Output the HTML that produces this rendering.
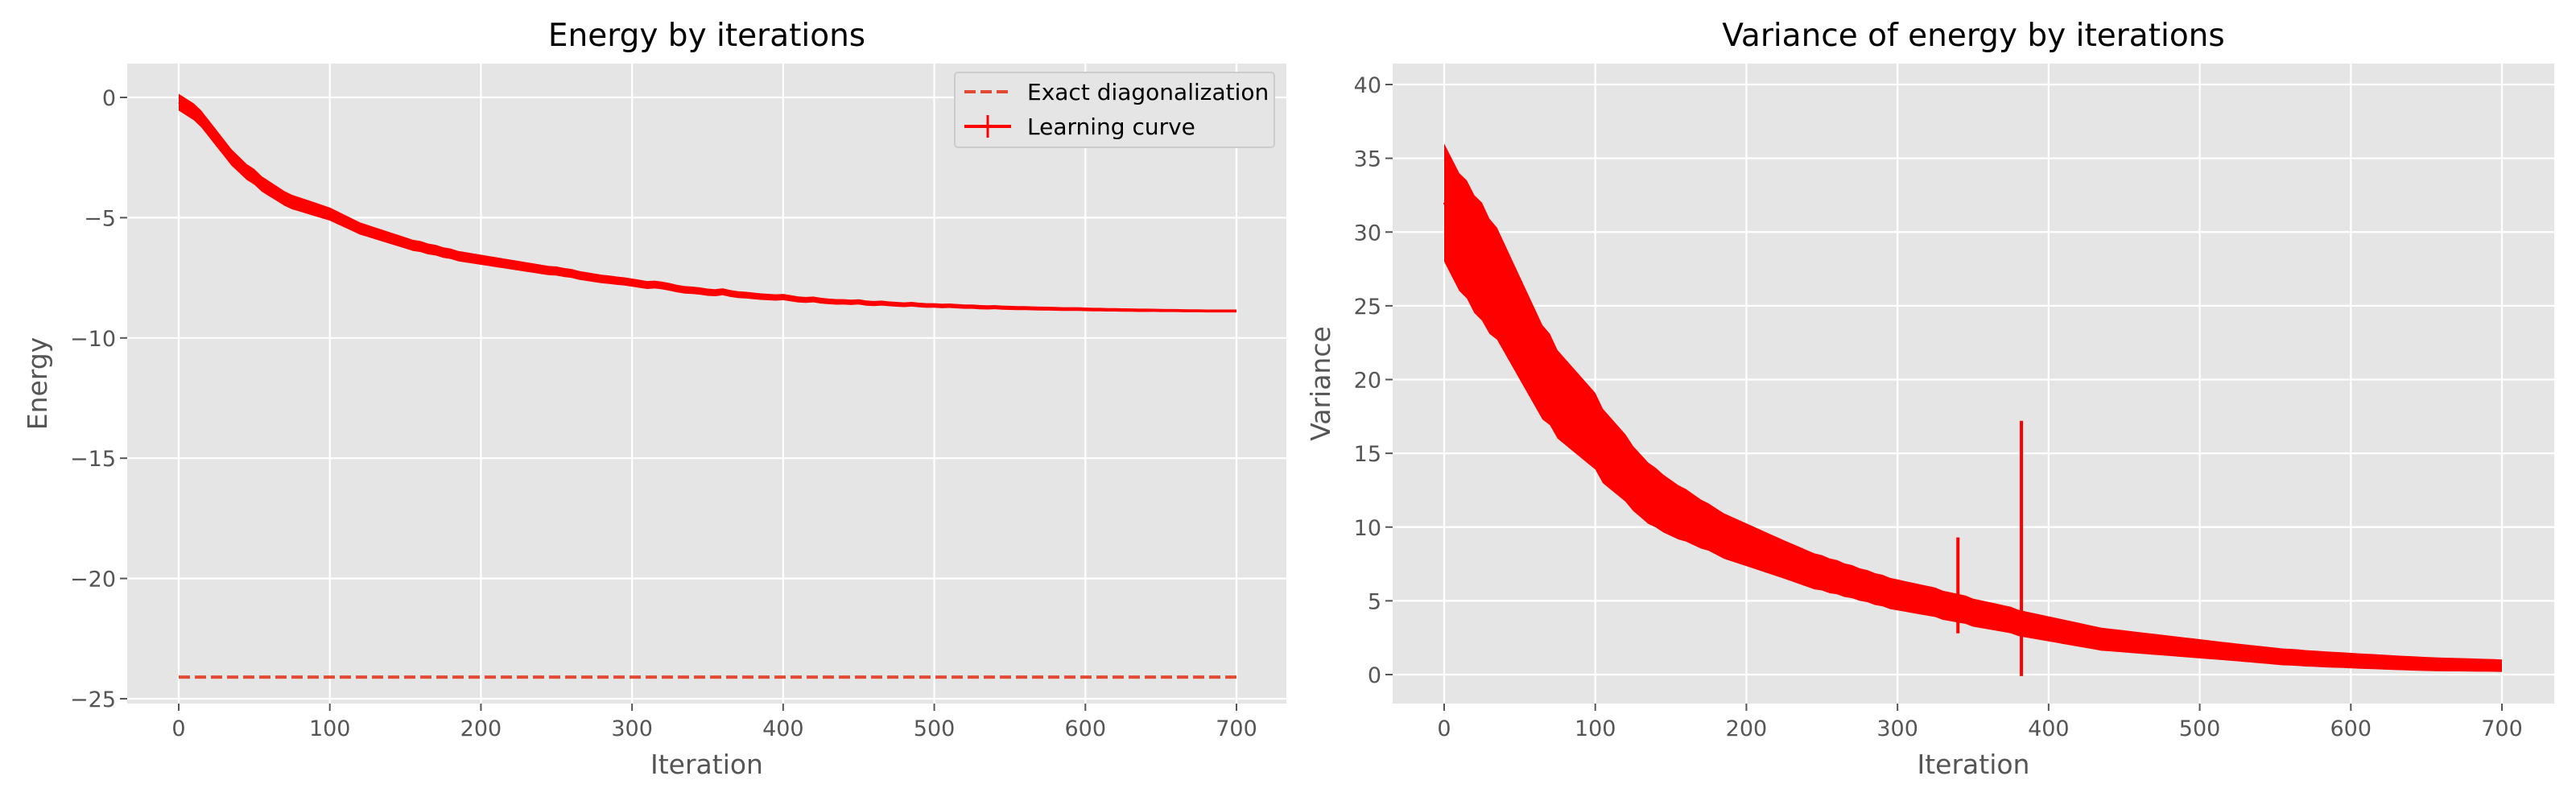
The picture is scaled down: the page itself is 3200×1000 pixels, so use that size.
<!DOCTYPE html>
<html><head><meta charset="utf-8"><style>
html,body{margin:0;padding:0;background:#fff;}
svg{display:block;font-family:"DejaVu Sans","Liberation Sans",sans-serif;}
</style></head><body>
<svg id="fig" width="3200" height="1000" viewBox="0 0 3200 1000"></svg>
<script>
const xTicks=[0,100,200,300,400,500,600,700];
const eTicks=[0,-5,-10,-15,-20,-25];
const vTicks=[0,5,10,15,20,25,30,35,40];
const exactEnergy=-24.1;
const energyStep=5;
const energy=[-0.2,-0.4,-0.6,-0.9,-1.3,-1.7,-2.1,-2.5,-2.8,-3.1,
-3.3,-3.6,-3.8,-4.0,-4.2,-4.35,-4.45,-4.55,-4.65,-4.75,
-4.85,-5.0,-5.15,-5.3,-5.45,-5.55,-5.65,-5.75,-5.85,-5.95,
-6.05,-6.15,-6.2,-6.3,-6.35,-6.45,-6.5,-6.6,-6.65,-6.7,
-6.75,-6.8,-6.85,-6.9,-6.95,-7.0,-7.05,-7.1,-7.15,-7.2,
-7.22,-7.28,-7.32,-7.4,-7.45,-7.5,-7.55,-7.58,-7.62,-7.65,
-7.7,-7.75,-7.8,-7.78,-7.82,-7.88,-7.95,-8.0,-8.02,-8.05,
-8.1,-8.12,-8.08,-8.15,-8.2,-8.22,-8.25,-8.28,-8.3,-8.32,
-8.3,-8.35,-8.4,-8.42,-8.4,-8.45,-8.48,-8.5,-8.5,-8.52,
-8.5,-8.55,-8.57,-8.55,-8.58,-8.6,-8.62,-8.6,-8.63,-8.65,
-8.65,-8.67,-8.66,-8.68,-8.7,-8.7,-8.72,-8.73,-8.72,-8.74,
-8.75,-8.76,-8.76,-8.77,-8.78,-8.78,-8.79,-8.8,-8.8,-8.8,
-8.81,-8.82,-8.82,-8.83,-8.83,-8.84,-8.84,-8.85,-8.85,-8.85,
-8.86,-8.86,-8.86,-8.87,-8.87,-8.87,-8.88,-8.88,-8.88,-8.88,-8.88];
const energyErr=[0.35,0.3,0.25,0.22,0.2,0.18,0.16,0.14,0.12,0.1,0.09,0.08,0.07,0.06,0.06];
const variance=[32,31,30,29.5,28.5,28,27,26.5,25.5,24.5,
23.5,22.5,21.5,20.5,20,19,18.5,18,17.5,17,
16.5,15.5,15,14.5,14,13.3,12.8,12.3,12,11.6,
11.3,11,10.8,10.5,10.2,10,9.7,9.4,9.2,9,
8.8,8.6,8.4,8.2,8,7.8,7.6,7.4,7.2,7,
6.9,6.7,6.6,6.4,6.3,6.1,6,5.8,5.7,5.5,
5.4,5.3,5.2,5.1,5,4.9,4.7,4.6,4.5,4.4,
4.2,4.1,4,3.9,3.8,3.7,3.5,3.4,3.3,3.2,
3.1,3,2.9,2.8,2.7,2.6,2.5,2.4,2.35,2.3,
2.25,2.2,2.15,2.1,2.05,2,1.95,1.9,1.85,1.8,
1.75,1.7,1.65,1.6,1.55,1.5,1.45,1.4,1.35,1.3,
1.25,1.2,1.18,1.15,1.1,1.08,1.05,1.02,1,0.98,
0.95,0.92,0.9,0.88,0.85,0.83,0.8,0.78,0.76,0.74,
0.72,0.7,0.69,0.68,0.67,0.66,0.65,0.64,0.63,0.62,0.6];
const varianceErr=[4,3,2.2,1.6,1.3,1.1,1,0.9,0.8,0.7,0.6,0.55,0.5,0.45,0.4];
const spikeIters=[340,382];
const spikeTop=[9.3,17.2];
const spikeBottom=[2.8,-0.1];

const NS="http://www.w3.org/2000/svg";
const svg=document.getElementById('fig');
function mk(tag,attrs,parent){const e=document.createElementNS(NS,tag);for(const k in attrs)e.setAttribute(k,attrs[k]);(parent||svg).appendChild(e);return e;}
function errAt(errs,it){const p=it/50-0.5;if(p<=0)return errs[0];const i=Math.floor(p);if(i>=errs.length-1)return errs[errs.length-1];const f=p-i;return errs[i]*(1-f)+errs[i+1]*f;}

function panel(cfg){
  const g=mk('g',{});
  
  
  const X=v=>cfg.x0px+(v-0)*(cfg.x700px-cfg.x0px)/700;
  const Y=v=>cfg.ya+(v-cfg.yaVal)*(cfg.yb-cfg.ya)/(cfg.ybVal-cfg.yaVal);
  const bg=mk('rect',{x:cfg.L,y:cfg.T,width:cfg.R-cfg.L,height:cfg.B-cfg.T,fill:'#E5E5E5'},g);
  
  
  xTicks.forEach(t=>{
    const gl=mk('line',{x1:X(t),x2:X(t),y1:cfg.T,y2:cfg.B,stroke:'#fff','stroke-width':2.2},g);
    
    
    mk('line',{x1:X(t),x2:X(t),y1:cfg.B,y2:cfg.B+9,stroke:'#555','stroke-width':2},g);
    const tx=mk('text',{x:X(t),y:cfg.B+40,'text-anchor':'middle','font-size':27,fill:'#555'},g);
    tx.textContent=t;
    
    
  });
  cfg.yTicks.forEach(t=>{
    const gl=mk('line',{x1:cfg.L,x2:cfg.R,y1:Y(t),y2:Y(t),stroke:'#fff','stroke-width':2.2},g);
    
    
    mk('line',{x1:cfg.L-9,x2:cfg.L,y1:Y(t),y2:Y(t),stroke:'#555','stroke-width':2},g);
    const tx=mk('text',{x:cfg.L-14,y:Y(t)+10,'text-anchor':'end','font-size':27,fill:'#555'},g);
    tx.textContent=t<0?'\u2212'+(-t):t;
    
    
  });
  const vals=cfg.vals,errs=cfg.errs;
  let up=[],dn=[],ln=[];
  vals.forEach((v,i)=>{const it=i*energyStep;const e=errAt(errs,it);
    up.push(X(it)+','+Y(v+e));dn.unshift(X(it)+','+Y(v-e));ln.push(X(it)+','+Y(v));});
  const band=mk('polygon',{points:up.concat(dn).join(' '),fill:'#ff0000'},g);
  
  
  const line=mk('polyline',{points:ln.join(' '),fill:'none',stroke:'#ff0000','stroke-width':3},g);
  
  
  const ti=mk('text',{x:(cfg.L+cfg.R)/2,y:57,'text-anchor':'middle','font-size':39,fill:'#000'},g);
  ti.textContent=cfg.title;
  
  
  const xl=mk('text',{x:(cfg.L+cfg.R)/2,y:961,'text-anchor':'middle','font-size':33,fill:'#555'},g);
  xl.textContent='Iteration';
  
  
  const yl=mk('text',{x:0,y:0,'text-anchor':'middle','font-size':33,fill:'#555',transform:`translate(${cfg.ylx},${(cfg.T+cfg.B)/2}) rotate(-90)`},g);
  yl.textContent=cfg.ylabel;
  
  
  return {g,X,Y};
}

const p1=panel({name:'energy-panel',L:158,R:1598,T:79,B:874,x0px:222,x700px:1536,ya:121,yaVal:0,yb:868,ybVal:-25,yTicks:eTicks,vals:energy,errs:energyErr,title:'Energy by iterations',ylabel:'Energy',ylx:58});
const ex=mk('line',{x1:p1.X(0),x2:p1.X(700),y1:p1.Y(exactEnergy),y2:p1.Y(exactEnergy),stroke:'#E24A33','stroke-width':4,'stroke-dasharray':'14,6'},p1.g);



const p2=panel({name:'variance-panel',L:1730,R:3173,T:79,B:874,x0px:1794,x700px:3108,ya:838,yaVal:0,yb:105,ybVal:40,yTicks:vTicks,vals:variance,errs:varianceErr,title:'Variance of energy by iterations',ylabel:'Variance',ylx:1652});
spikeIters.forEach((it,i)=>{
  const s=mk('line',{x1:p2.X(it),x2:p2.X(it),y1:p2.Y(spikeTop[i]),y2:p2.Y(spikeBottom[i]),stroke:'#ff0000','stroke-width':4},p2.g);
  
  
});

const lg=mk('g',{});


mk('rect',{x:1186,y:90,width:397,height:93,rx:4,fill:'#E5E5E5',stroke:'#cccccc','stroke-width':2},lg);
mk('line',{x1:1198,x2:1256,y1:114,y2:114,stroke:'#E24A33','stroke-width':4,'stroke-dasharray':'14,6'},lg);
const l1=mk('text',{x:1276,y:124,'font-size':28,fill:'#000'},lg);
l1.textContent='Exact diagonalization';


mk('line',{x1:1198,x2:1256,y1:157,y2:157,stroke:'#ff0000','stroke-width':4},lg);
mk('line',{x1:1227,x2:1227,y1:143,y2:171,stroke:'#ff0000','stroke-width':3},lg);
const l2=mk('text',{x:1276,y:167,'font-size':28,fill:'#000'},lg);
l2.textContent='Learning curve';


</script>
</body></html>
